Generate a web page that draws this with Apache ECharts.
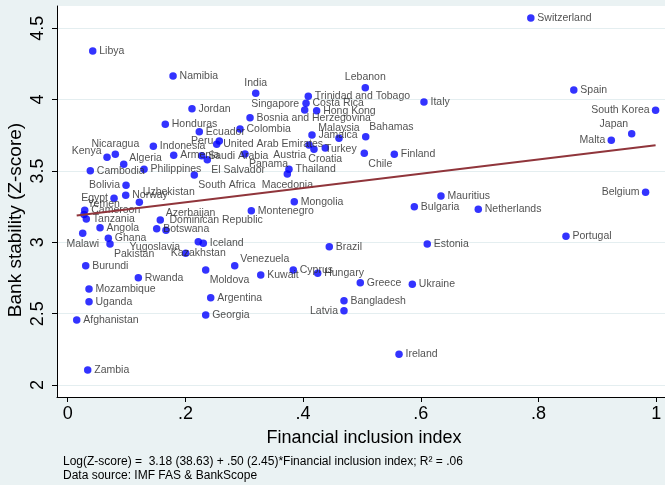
<!DOCTYPE html>
<html>
<head>
<meta charset="utf-8">
<script src="https://cdn.jsdelivr.net/npm/echarts@6/dist/echarts.min.js"></script>
<style>
  html, body { margin: 0; padding: 0; background: #EAF2F3; }
  #chart { width: 665px; height: 485px; }
</style>
</head>
<body>
<div id="chart"></div>
<script>
// Countries, financial inclusion index and log bank Z-score
const countries = [
  'Switzerland', 'Libya', 'Namibia', 'India', 'Lebanon', 'Spain', 'Trinidad and Tobago', 'Costa Rica',
  'Singapore', 'Hong Kong', 'Italy', 'Jordan', 'South Korea', 'Bosnia and Herzegovina', 'Honduras', 'Colombia',
  'Ecuador', 'Malaysia', 'Jamaica', 'Bahamas', 'Japan', 'Malta', 'Peru', 'United Arab Emirates',
  'Turkey', 'Croatia', 'Austria', 'Indonesia', 'Kenya', 'Nicaragua', 'Armenia', 'Saudi Arabia',
  'Panama', 'Chile', 'Finland', 'Algeria', 'El Salvador', 'Cambodia', 'Philippines', 'Thailand',
  'Macedonia', 'South Africa', 'Bolivia', 'Norway', 'Egypt', 'Uzbekistan', 'Yemen', 'Cameroon',
  'Tanzania', 'Mongolia', 'Montenegro', 'Mauritius', 'Bulgaria', 'Netherlands', 'Belgium', 'Portugal',
  'Estonia', 'Brazil', 'Azerbaijan', 'Dominican Republic', 'Botswana', 'Angola', 'Malawi', 'Ghana',
  'Pakistan', 'Yugoslavia', 'Iceland', 'Kazakhstan', 'Burundi', 'Rwanda', 'Mozambique', 'Uganda',
  'Afghanistan', 'Zambia', 'Moldova', 'Venezuela', 'Argentina', 'Georgia', 'Kuwait', 'Cyprus',
  'Hungary', 'Greece', 'Ukraine', 'Bangladesh', 'Latvia', 'Ireland'
];

const inclusionIndex = [
  0.787, 0.0425, 0.179, 0.3195, 0.5057, 0.860, 0.4088, 0.405,
  0.4027, 0.423, 0.6054, 0.2112, 0.999, 0.3098, 0.1658, 0.2928,
  0.2236, 0.461, 0.4151, 0.5064, 0.9584, 0.9237, 0.2576, 0.2532,
  0.4185, 0.4377, 0.410, 0.1455, 0.0668, 0.0809, 0.1801, 0.2277,
  0.3013, 0.504, 0.555, 0.0952, 0.2372, 0.0384, 0.1297, 0.376,
  0.3732, 0.2151, 0.0991, 0.0986, 0.0787, 0.1217, 0.0277, 0.0289,
  0.0316, 0.385, 0.312, 0.6343, 0.589, 0.6977, 0.982, 0.8467,
  0.611, 0.4445, 0.1573, 0.167, 0.1512, 0.0549, 0.0255, 0.069,
  0.0719, 0.2005, 0.2304, 0.2219, 0.0306, 0.12, 0.0362, 0.0362,
  0.0153, 0.034, 0.2345, 0.2838, 0.243, 0.2345, 0.328, 0.3833,
  0.4248, 0.4972, 0.5856, 0.4695, 0.4695, 0.563
];

const zScoreLog = [
  4.572, 4.341, 4.165, 4.044, 4.083, 4.067, 4.023, 3.974,
  3.927, 3.922, 3.983, 3.936, 3.925, 3.873, 3.827, 3.794,
  3.775, 3.729, 3.752, 3.740, 3.761, 3.715, 3.710, 3.687,
  3.652, 3.661, 3.682, 3.673, 3.596, 3.617, 3.610, 3.607,
  3.619, 3.624, 3.617, 3.547, 3.579, 3.502, 3.512, 3.512,
  3.479, 3.472, 3.399, 3.329, 3.308, 3.280, 3.195, 3.224,
  3.163, 3.285, 3.221, 3.324, 3.249, 3.231, 3.350, 3.042,
  2.988, 2.969, 3.156, 3.084, 3.095, 3.102, 3.063, 3.028,
  2.988, 2.923, 2.993, 3.004, 2.836, 2.752, 2.673, 2.584,
  2.455, 2.105, 2.806, 2.836, 2.612, 2.491, 2.771, 2.806,
  2.783, 2.717, 2.706, 2.591, 2.521, 2.215
];

// Axis ticks
const xTickValues = [0, 0.2, 0.4, 0.6, 0.8, 1];
const yTickValues = [2, 2.5, 3, 3.5, 4, 4.5];

// Fitted line as reported in the note
const fitIntercept = 3.18;
const fitSlope = 0.50;

const xTitle = 'Financial inclusion index';
const yTitle = 'Bank stability (Z-score)';
const noteLines = [
  'Log(Z-score) =  3.18 (38.63) + .50 (2.45)*Financial inclusion index; R\u00B2 = .06',
  'Data source: IMF FAS & BankScope'
];

// Clock-style placement of marker labels (default: right of the marker)
const labelSpot = {
  'India': 't', 'Lebanon': 't', 'Malaysia': 't', 'Nicaragua': 't',
  'Croatia': 'b', 'Macedonia': 'b', 'Malawi': 'b', 'Kazakhstan': 'b',
  'South Korea': 'l', 'Malta': 'l', 'Belgium': 'l', 'Peru': 'l', 'Bolivia': 'l', 'Egypt': 'l', 'Latvia': 'l',
  'Japan': '11', 'Kenya': '10', 'Yugoslavia': '10', 'Singapore': '10',
  'Bahamas': '1', 'Uzbekistan': '1', 'Dominican Republic': '1', 'Yemen': '1',
  'Algeria': '2', 'Azerbaijan': '2', 'Venezuela': '2',
  'Chile': '5', 'South Africa': '5', 'El Salvador': '5', 'Pakistan': '5', 'Moldova': '5', 'Panama': '5',
  'Austria': '7', 'Turkey': 'rw'
};

const SPOTS = {
  r:   { align: 'left',   offset: [6.5, 0] },
  rw:  { align: 'left',   offset: [11, 0] },
  l:   { align: 'right',  offset: [-6, 0] },
  t:   { align: 'center', offset: [0, -10.5] },
  b:   { align: 'center', offset: [0, 11] },
  '1': { align: 'left',   offset: [3.5, -10] },
  '2': { align: 'left',   offset: [5.5, -6.5] },
  '5': { align: 'left',   offset: [4, 10.5] },
  '7': { align: 'right',  offset: [-3, 10.5] },
  '10': { align: 'right', offset: [-5.5, -6] },
  '11': { align: 'right', offset: [-3.5, -10] }
};

const FONT = '"Liberation Sans", Arial, Helvetica, sans-serif';

const points = countries.map((name, i) => {
  const spot = SPOTS[labelSpot[name] || 'r'];
  return {
    name: name,
    value: [inclusionIndex[i], zScoreLog[i]],
    label: { align: spot.align, offset: spot.offset }
  };
});

const xLo = Math.min(...inclusionIndex);
const xHi = Math.max(...inclusionIndex);
const fitLine = [[xLo, fitIntercept + fitSlope * xLo], [xHi, fitIntercept + fitSlope * xHi]];

const chart = echarts.init(document.getElementById('chart'), null, { renderer: 'canvas' });

chart.setOption({
  backgroundColor: '#EAF2F3',
  animation: false,
  textStyle: { fontFamily: FONT },
  grid: {
    left: 57, right: 0, top: 6, bottom: 88,
    show: true, backgroundColor: '#ffffff', borderWidth: 0
  },
  xAxis: {
    type: 'value',
    min: -0.0182, max: 1.015,
    axisLine: { show: true, onZero: false, lineStyle: { color: '#000', width: 1 } },
    axisTick: { show: true, length: 5, customValues: xTickValues, lineStyle: { color: '#000' } },
    axisLabel: {
      customValues: xTickValues, fontSize: 18, color: '#000', margin: 8, fontFamily: FONT,
      formatter: v => (v === 0 || v === 1) ? String(v) : String(+v.toFixed(1)).replace(/^0/, '')
    },
    splitLine: { show: false }
  },
  yAxis: {
    type: 'value',
    min: 1.916, max: 4.656,
    axisLine: { show: true, onZero: false, lineStyle: { color: '#000', width: 1 } },
    axisTick: { show: true, length: 5, customValues: yTickValues, lineStyle: { color: '#000' } },
    axisLabel: {
      customValues: yTickValues, fontSize: 18, color: '#000', margin: 10, rotate: 90, fontFamily: FONT,
      formatter: v => String(+v.toFixed(1))
    },
    splitLine: { show: true, lineStyle: { color: '#E4EEF0', width: 1 } }
  },
  series: [
    {
      type: 'scatter',
      data: points,
      symbol: 'circle',
      symbolSize: 7.5,
      itemStyle: { color: '#0000FF' },
      label: {
        show: true, position: 'inside', formatter: '{b}', verticalAlign: 'middle',
        fontSize: 10.5, color: '#262626', fontFamily: FONT
      },
      emphasis: { disabled: true },
      z: 2
    },
    {
      type: 'line',
      data: fitLine,
      symbol: 'none',
      lineStyle: { color: '#90353B', width: 2 },
      emphasis: { disabled: true },
      z: 3
    }
  ],
  graphic: [
    {
      type: 'text', x: 364, y: 438,
      style: { text: xTitle, fontSize: 18, fill: '#000', textAlign: 'center', textVerticalAlign: 'middle', fontFamily: FONT }
    },
    {
      type: 'text', x: 16, y: 220, rotation: Math.PI / 2,
      style: { text: yTitle, fontSize: 19, fill: '#000', textAlign: 'center', textVerticalAlign: 'middle', fontFamily: FONT }
    },
    {
      type: 'text', x: 63, y: 462,
      style: { text: noteLines[0], fontSize: 12, fill: '#000', textAlign: 'left', textVerticalAlign: 'middle', fontFamily: FONT }
    },
    {
      type: 'text', x: 63, y: 476,
      style: { text: noteLines[1], fontSize: 12, fill: '#000', textAlign: 'left', textVerticalAlign: 'middle', fontFamily: FONT }
    }
  ]
});
</script>
</body>
</html>
